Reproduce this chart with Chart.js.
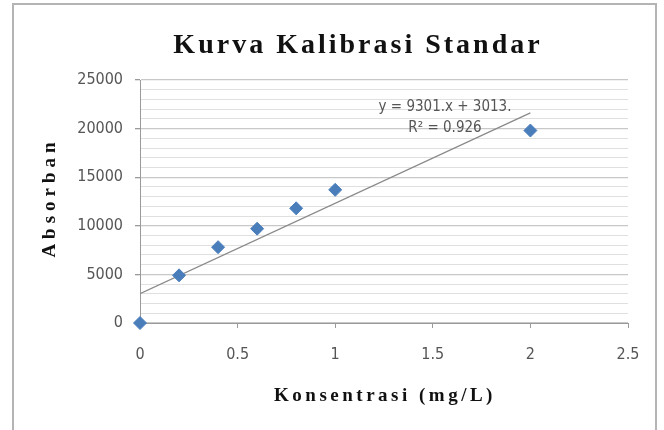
<!DOCTYPE html>
<html>
<head>
<meta charset="utf-8">
<script src="https://cdn.jsdelivr.net/npm/chart.js@4.4.1/dist/chart.umd.min.js"></script>
<style>
  html, body { margin: 0; padding: 0; background: #fff; }
  #wrap { position: relative; width: 664px; height: 430px; overflow: hidden; }
  #frame { position: absolute; left: 12px; top: 3px; width: 645px; height: 460px;
           border: 2px solid #b4b4b4; box-sizing: border-box; }
  canvas { position: absolute; left: 0; top: 0; }
</style>
</head>
<body>
<div id="wrap">
  <div id="frame"></div>
  <canvas id="kurva" width="664" height="430"></canvas>
</div>
<script>
// data kalibrasi
const konsentrasi = [0, 0.2, 0.4, 0.6, 0.8, 1, 2];
const absorban = [0, 4900, 7800, 9700, 11800, 13700, 19800];
const xTicks = [0, 0.5, 1, 1.5, 2, 2.5];
const yTicks = [0, 5000, 10000, 15000, 20000, 25000];
const slope = 9301;
const intercept = 3013;
const trendX = [0, 2];
const judul = "Kurva Kalibrasi Standar";
const judulX = "Konsentrasi (mg/L)";
const judulY = "Absorban";
const persamaan = ["y = 9301.x + 3013.", "R\u00b2 = 0.926"];

const fontTick = "'DejaVu Sans Condensed', 'Liberation Sans', sans-serif";
const titikTren = trendX.map((x) => ({ x: x, y: slope * x + intercept }));

// plugin untuk judul dengan jarak huruf
const judulPlugin = {
  id: "judulPlugin",
  afterDraw(chart) {
    const ctx = chart.ctx;
    const area = chart.chartArea;
    ctx.save();
    ctx.fillStyle = "#111";
    ctx.textAlign = "center";
    ctx.textBaseline = "middle";
    ctx.letterSpacing = "3px";
    ctx.font = "bold 28px 'Liberation Serif'";
    ctx.fillText(judul, 358, 46);
    ctx.letterSpacing = "3.5px";
    ctx.font = "bold 19px 'Liberation Serif'";
    ctx.fillText(judulX, 385, 396);
    ctx.letterSpacing = "5px";
    ctx.translate(50, (area.top + area.bottom) / 2 - 4);
    ctx.rotate(-Math.PI / 2);
    ctx.fillText(judulY, 0, 0);
    ctx.restore();

    // label persamaan garis tren
    ctx.save();
    ctx.fillStyle = "#555";
    ctx.font = "15px " + fontTick;
    ctx.textAlign = "center";
    ctx.textBaseline = "middle";
    ctx.fillText(persamaan[0], area.left + 305, area.top + 27);
    ctx.fillText(persamaan[1], area.left + 305, area.top + 48);
    ctx.restore();
  },
};

new Chart(document.getElementById("kurva"), {
  type: "scatter",
  data: {
    datasets: [
      {
        label: "Absorban",
        data: konsentrasi.map((x, i) => ({ x: x, y: absorban[i] })),
        pointStyle: "rectRot",
        pointRadius: 6.5,
        backgroundColor: "#4a7ebb",
        borderColor: "#4a7ebb",
        clip: false,
        order: 1,
      },
      {
        label: "Linear",
        type: "line",
        data: titikTren,
        borderColor: "#8a8a8a",
        borderWidth: 1.3,
        pointRadius: 0,
        fill: false,
        order: 2,
      },
    ],
  },
  options: {
    responsive: false,
    animation: false,
    layout: { padding: { left: 0, right: 36, top: 80, bottom: 0 } },
    plugins: {
      legend: { display: false },
      tooltip: { enabled: false },
    },
    scales: {
      x: {
        type: "linear",
        min: 0,
        max: 2.5,
        afterBuildTicks: (scale) => {
          scale.ticks = xTicks.map((v) => ({ value: v }));
        },
        afterFit: (scale) => {
          scale.height = 107;
        },
        grid: {
          drawOnChartArea: false,
          tickLength: 5,
          tickColor: "#9a9a9a",
        },
        border: { color: "#9a9a9a", width: 1 },
        ticks: {
          padding: 17,
          color: "#555",
          font: { family: fontTick, size: 16 },
          callback: (v) => String(v),
        },
      },
      y: {
        min: 0,
        max: 25000,
        afterBuildTicks: (scale) => {
          const t = [];
          for (let v = 0; v <= 25000; v += 1000) t.push({ value: v });
          scale.ticks = t;
        },
        afterFit: (scale) => {
          scale.width = 140;
        },
        grid: {
          color: (c) => (c.tick.value % 5000 === 0 ? "#c8c8c8" : "#e0e0e0"),
          lineWidth: (c) => (c.tick.value % 5000 === 0 ? 1.3 : 1),
          tickLength: 5,
          tickColor: (c) => (c.tick.value % 5000 === 0 ? "#9a9a9a" : "rgba(0,0,0,0)"),
        },
        border: { color: "#9a9a9a", width: 1 },
        ticks: {
          padding: 12,
          color: "#555",
          font: { family: fontTick, size: 16 },
          autoSkip: false,
          callback: (v) => (yTicks.includes(v) ? String(v) : ""),
        },
      },
    },
  },
  plugins: [judulPlugin],
});
</script>
</body>
</html>
